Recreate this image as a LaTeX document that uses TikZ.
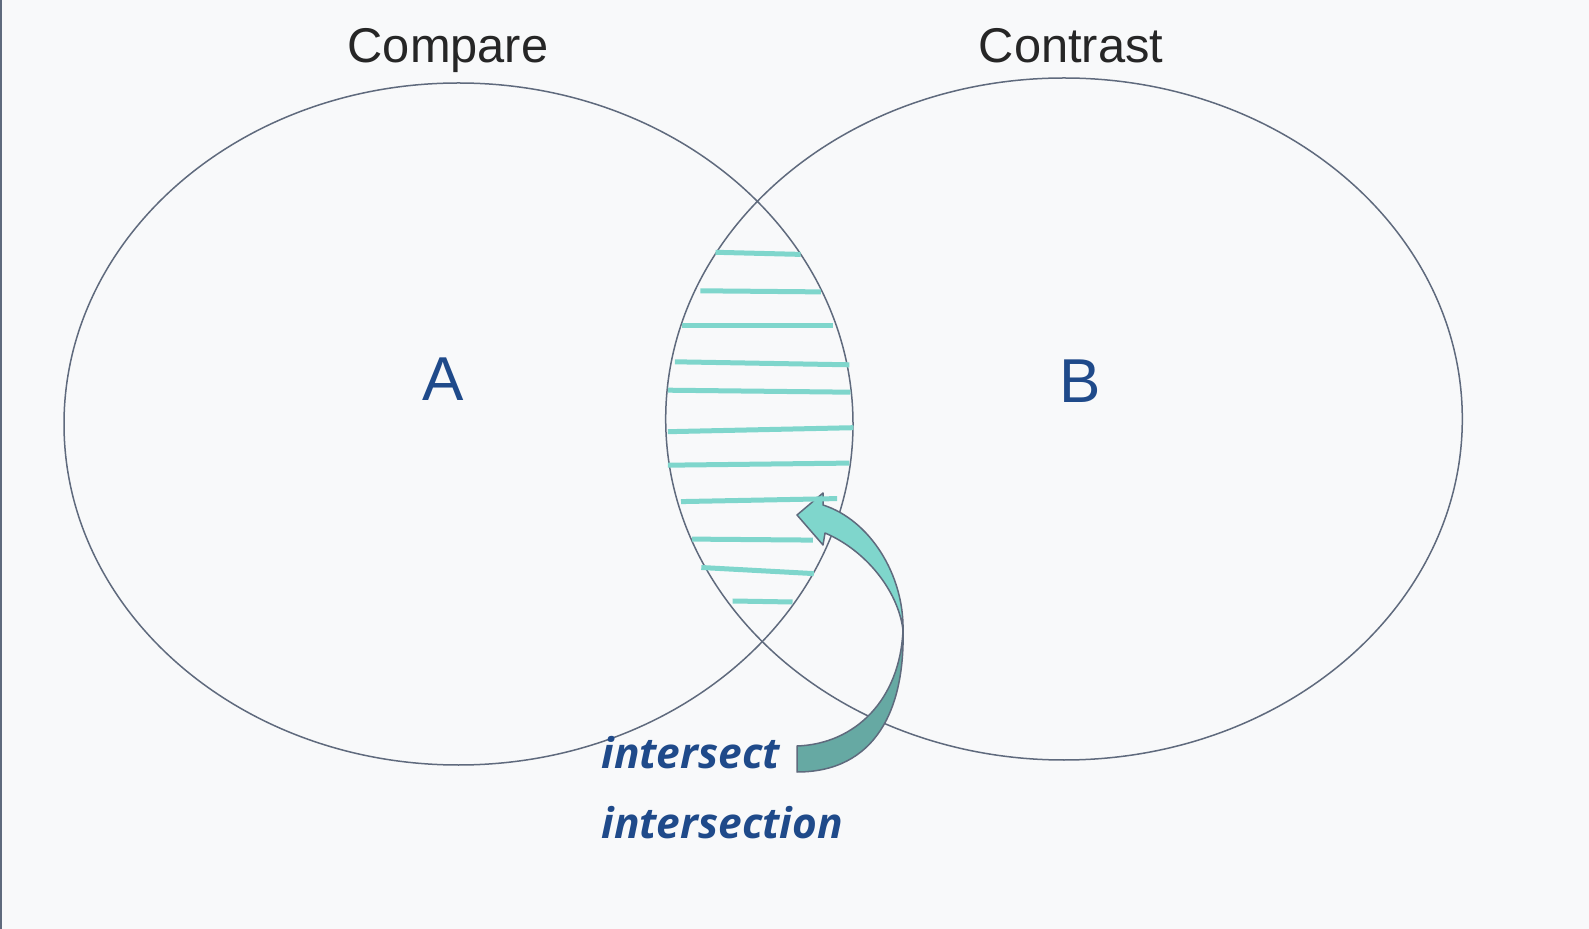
\documentclass[tikz,border=0pt]{standalone}
\usepackage{fontspec}
\setmainfont{Liberation Sans}
\newfontfamily\handfont{Open Sans}
\usetikzlibrary{shapes.geometric}
\definecolor{bgpaper}{HTML}{F8F9FA}
\definecolor{rimgray}{HTML}{5F6A7D}
\definecolor{inkblue}{HTML}{1F4A8A}
\definecolor{hatchteal}{HTML}{7FD6CC}
\definecolor{arrowdark}{HTML}{66A9A3}
\tikzset{
  setring/.style={draw=rimgray, line width=0.75pt, ellipse, inner sep=0pt},
  settitle/.style={font=\fontsize{24.4}{28}\selectfont, text=black!85, anchor=base},
  setname/.style={font=\fontsize{31}{36}\selectfont, text=inkblue},
  hatch/.style={hatchteal, line width=2.5pt},
  handnote/.style={font=\handfont\fontsize{21.2}{26}\bfseries\itshape\selectfont, text=inkblue, anchor=base west, inner sep=0pt},
  bendarrow/.style={draw=rimgray, line width=0.75pt, line join=round},
}

\begin{document}
\begin{tikzpicture}[x=0.5pt,y=-0.5pt]
    \fill[bgpaper] (0,0) rectangle (1589,929);
    \useasboundingbox (0,0) rectangle (1589,929);
    \draw[rimgray, line width=1pt] (1,0) -- (1,929);
    % the two sets
    \node[setring, minimum width=394.5pt, minimum height=341pt] (setA) at (458.5,424) {};
    \node[setring, minimum width=398.3pt, minimum height=341pt] (setB) at (1064,419) {};
    \node[settitle] (compare) at (448,63) {Compare};
    \node[settitle] (contrast) at (1071,63) {Contrast};
    \node[setname] (nameA) at (443,379) {A};
    \node[setname] (nameB) at (1080,381) {B};
    % bent arrow, back face then front face
    \filldraw[bendarrow, fill=arrowdark]
        (903,630) .. controls (905,710) and (875,772) .. (797,772)
        -- (797,746) .. controls (855,744) and (900,700) .. (903,630) -- cycle;
    \filldraw[bendarrow, fill=hatchteal]
        (903,630) .. controls (904,575) and (870,520) .. (823,505)
        -- (823,493) -- (797,515) -- (823,545) -- (825,533)
        .. controls (865,550) and (898,590) .. (903,630) -- cycle;
    % hatching of the overlap
    \draw[hatch] (715.5,252.3) -- (800.6,254.4);
    \draw[hatch] (700.3,290.8) -- (820.9,291.9);
    \draw[hatch] (682,325.3) -- (833,325.3);
    \draw[hatch] (674.9,361.8) -- (849.3,364.8);
    \draw[hatch] (667.8,390.2) -- (850.3,392.2);
    \draw[hatch] (667.8,431.7) -- (853.3,427.7);
    \draw[hatch] (667.8,465.2) -- (849.3,463.1);
    \draw[hatch] (681,501.6) -- (837.1,498.6);
    \draw[hatch] (692.2,539.1) -- (812.8,540.1);
    \draw[hatch] (701.3,567.5) -- (813.8,573.6);
    \draw[hatch] (732.7,601) -- (792.5,602);
    % notes
    \node[handnote] (verb) at (601,768) {intersect};
    \node[handnote] (noun) at (601,838) {intersection};
\end{tikzpicture}
\end{document}
